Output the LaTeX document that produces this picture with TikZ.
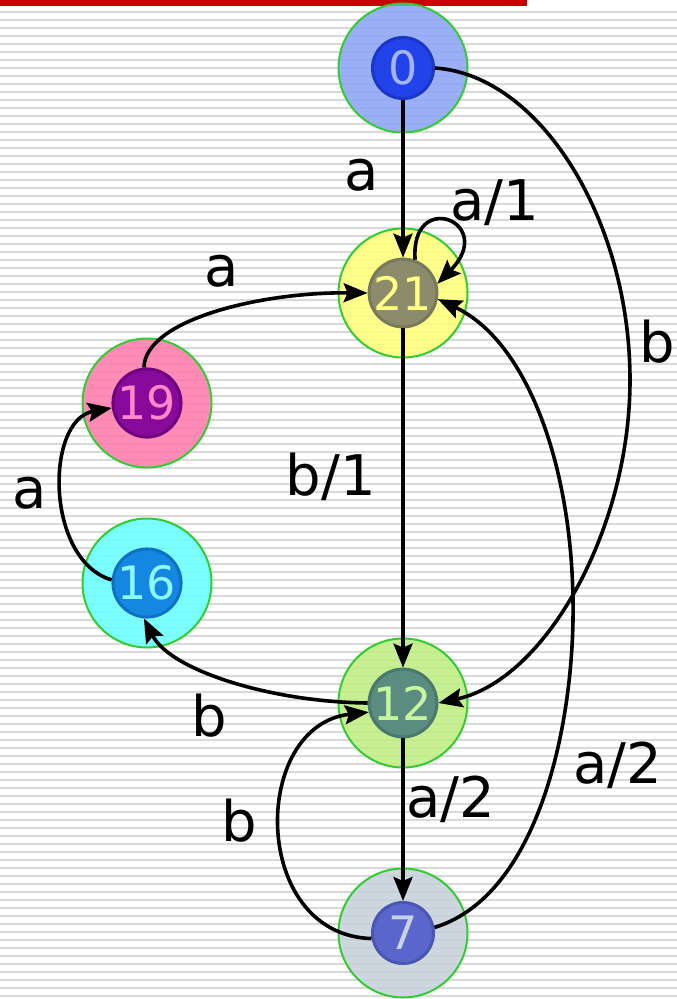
\documentclass[tikz,border=0pt]{standalone}
\usepackage{fontspec}
\setmainfont{DejaVu Sans}
\usetikzlibrary{arrows.meta}
\definecolor{stripecol}{HTML}{D9D9D9}
\definecolor{redbar}{HTML}{CC0000}
\definecolor{ringgreen}{HTML}{33CC33}
% outer fills
\definecolor{oA}{HTML}{8AA2F6}
\definecolor{oB}{HTML}{FFFF78}
\definecolor{oC}{HTML}{FF78AA}
\definecolor{oD}{HTML}{66FFFF}
\definecolor{oE}{HTML}{BEEE80}
\definecolor{oF}{HTML}{C6CFDA}
% inner fills / borders / text
\definecolor{iA}{HTML}{2242EA}\definecolor{bA}{HTML}{1A36C4}\definecolor{tA}{HTML}{A2B6FF}
\definecolor{iB}{HTML}{8C8C6C}\definecolor{bB}{HTML}{78785A}\definecolor{tB}{HTML}{FFFF80}
\definecolor{iC}{HTML}{880A9A}\definecolor{bC}{HTML}{6E0080}\definecolor{tC}{HTML}{FF88C8}
\definecolor{iD}{HTML}{1488E0}\definecolor{bD}{HTML}{0E70C4}\definecolor{tD}{HTML}{8CF8FF}
\definecolor{iE}{HTML}{5A8C80}\definecolor{bE}{HTML}{4A786C}\definecolor{tE}{HTML}{C8F5A0}
\definecolor{iF}{HTML}{5A66CC}\definecolor{bF}{HTML}{4A56B4}\definecolor{tF}{HTML}{C8D2E6}
\begin{document}
\begin{tikzpicture}[x=1pt,y=-1pt,
  outerring/.style={circle,minimum size=129pt,inner sep=0pt,draw=ringgreen,line width=2pt,fill opacity=0.85},
  innerdisc/.style={circle,minimum size=61pt,inner sep=0pt,line width=3pt,
     font=\fontsize{46}{48}\selectfont},
  edge/.style={line width=3.6pt,-{Stealth[length=24pt,width=19pt,inset=4pt]}},
  lbl/.style={font=\fontsize{56}{60}\selectfont,inner sep=0pt}]
\useasboundingbox (0,0) rectangle (677,999);
\fill[white] (0,0) rectangle (677,999);
\foreach \yy in {11,19,...,999} \fill[stripecol] (0,\yy) rectangle (677,\yy+1.8);
\fill[redbar] (0,0) rectangle (527,5.7);
% outer rings
\node[outerring,fill=oA] (r0) at (403,68) {};
\node[outerring,fill=oB] (r21) at (403,293) {};
\node[outerring,fill=oC] (r19) at (147,403) {};
\node[outerring,fill=oD] (r16) at (147,583) {};
\node[outerring,fill=oE] (r12) at (403,703) {};
\node[outerring,fill=oF] (r7) at (403,933) {};
% inner discs
\node[innerdisc,fill=iA,draw=bA,text=tA] (n0) at (403,68) {0};
\node[innerdisc,fill=iB,draw=bB,text=tB] (n21) at (403,293) {21};
\node[innerdisc,fill=iC,draw=bC,text=tC] (n19) at (147,403) {19};
\node[innerdisc,fill=iD,draw=bD,text=tD] (n16) at (147,583) {16};
\node[innerdisc,fill=iE,draw=bE,text=tE] (n12) at (403,703) {12};
\node[innerdisc,fill=iF,draw=bF,text=tF] (n7) at (403,933) {7};
% edges
\draw[edge] (n0) -- (n21);
\draw[edge] (n21) -- (n12);
\draw[edge] (n12) -- (n7);
\draw[edge] (n0.east) .. controls (540,75) and (630,220) .. (630,380)
   .. controls (630,530) and (545,680) .. (n12.east);
\draw[edge] (n21.70) .. controls (410,188) and (498,222) .. (n21.15);
\draw[edge] (n19.95) .. controls (145,320) and (260,292) .. (n21.west);
\draw[edge] (n16.175) .. controls (45,560) and (45,420) .. (n19.188);
\draw[edge] (n12.west) .. controls (270,702) and (170,670) .. (n16.-95);
\draw[edge] (n7.190) .. controls (250,935) and (250,725) .. (n12.195);
\draw[edge] (n7.10) .. controls (540,895) and (575,720) .. (573,600)
   .. controls (571,460) and (525,340) .. (n21.-10);
% labels
\node[lbl] (l1) at (362,175) {a};
\node[lbl] (l2) at (495,203) {a/1};
\node[lbl] (l3) at (657,342) {b};
\node[lbl] (l4) at (222,271) {a};
\node[lbl] (l5) at (30,493) {a};
\node[lbl] (l6) at (331,477) {b/1};
\node[lbl] (l7) at (209,716) {b};
\node[lbl] (l8) at (451,799) {a/2};
\node[lbl] (l9) at (239,821) {b};
\node[lbl] (l10) at (618,765) {a/2};
\end{tikzpicture}
\end{document}
